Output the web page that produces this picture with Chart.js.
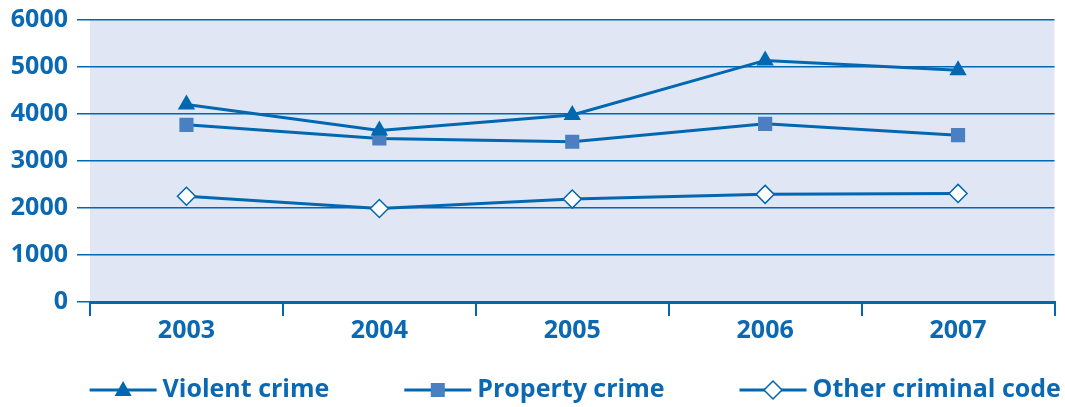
<!DOCTYPE html>
<html>
<head>
<meta charset="utf-8">
<script src="https://cdn.jsdelivr.net/npm/chart.js@4.4.1/dist/chart.umd.min.js"></script>
<style>
html,body{margin:0;padding:0;background:#fff;}
#wrap{width:1065px;height:407px;position:relative;}
</style>
</head>
<body>
<div id="wrap"><canvas id="c" width="1065" height="407"></canvas></div>
<script>
const categories = ['2003', '2004', '2005', '2006', '2007'];
const violentCrime = [4200, 3650, 3980, 5140, 4930];
const propertyCrime = [3770, 3480, 3410, 3790, 3550];
const otherCriminalCode = [2250, 1990, 2190, 2290, 2310];
const yTicks = [0, 1000, 2000, 3000, 4000, 5000, 6000];
const seriesNames = ['Violent crime', 'Property crime', 'Other criminal code'];

const BLUE = '#0067b1';
const SQ = '#4a80c2';
const TXT = '#0b68b2';
const FONT = "'Open Sans', 'Noto Sans', sans-serif";
const FSIZE = 25;

const bgPlugin = {
  id: 'plotBg',
  beforeDraw(chart) {
    const {ctx, chartArea: a} = chart;
    ctx.save();
    ctx.fillStyle = '#e0e6f4';
    ctx.fillRect(a.left, a.top, a.right - a.left, a.bottom - a.top);
    ctx.restore();
  }
};

function drawMarker(g, style, cx, cy) {
  g.beginPath();
  if (style === 'triangle') {
    g.fillStyle = BLUE;
    g.moveTo(cx, cy - 9); g.lineTo(cx + 8.5, cy + 6); g.lineTo(cx - 8.5, cy + 6); g.closePath(); g.fill();
  } else if (style === 'rect') {
    g.fillStyle = SQ;
    g.rect(cx - 7, cy - 7, 14, 14); g.fill();
  } else {
    g.fillStyle = '#fff'; g.strokeStyle = BLUE; g.lineWidth = 1.5;
    g.moveTo(cx, cy - 9); g.lineTo(cx + 9, cy); g.lineTo(cx, cy + 9); g.lineTo(cx - 9, cy); g.closePath(); g.fill(); g.stroke();
  }
}

const legendPlugin = {
  id: 'customLegend',
  afterDraw(chart) {
    const {ctx, chartArea: a} = chart;
    const styles = ['triangle', 'rect', 'rectRot'];
    const iconW = 67, textGap = 6, itemGap = 75, y = 390;
    ctx.save();
    ctx.font = `bold ${FSIZE}px ${FONT}`;
    const widths = chart.data.datasets.map(d => ctx.measureText(d.label).width);
    const total = widths.reduce((s, w) => s + w + iconW + textGap, 0) + itemGap * (widths.length - 1);
    let x = (a.left + a.right) / 2 + 3 - total / 2;
    chart.data.datasets.forEach((d, i) => {
      ctx.strokeStyle = BLUE; ctx.lineWidth = 3;
      ctx.beginPath(); ctx.moveTo(x, y); ctx.lineTo(x + iconW, y); ctx.stroke();
      drawMarker(ctx, styles[i], x + iconW / 2, y);
      ctx.fillStyle = TXT; ctx.textBaseline = 'middle'; ctx.textAlign = 'left';
      ctx.font = `bold ${FSIZE}px ${FONT}`;
      ctx.fillText(d.label, x + iconW + textGap, y);
      x += iconW + textGap + widths[i] + itemGap;
    });
    ctx.restore();
  }
};

new Chart(document.getElementById('c'), {
  type: 'line',
  data: {
    labels: categories,
    datasets: [
      {label: seriesNames[0], data: violentCrime, borderColor: BLUE, backgroundColor: BLUE,
       pointStyle: 'triangle', pointRadius: 10, pointBorderWidth: 0, pointBackgroundColor: BLUE, borderWidth: 3},
      {label: seriesNames[1], data: propertyCrime, borderColor: BLUE, backgroundColor: SQ,
       pointStyle: 'rect', pointRadius: 10, pointBorderWidth: 0, pointBackgroundColor: SQ, borderWidth: 3},
      {label: seriesNames[2], data: otherCriminalCode, borderColor: BLUE, backgroundColor: '#fff',
       pointStyle: 'rectRot', pointRadius: 9, pointBorderWidth: 1.5, pointBorderColor: BLUE, pointBackgroundColor: '#fff', borderWidth: 3}
    ]
  },
  options: {
    responsive: false,
    animation: false,
    devicePixelRatio: 1,
    layout: {padding: {top: 20, right: 6, left: 0, bottom: 61}},
    plugins: {
      tooltip: {enabled: false},
      legend: {display: false}
    },
    scales: {
      x: {
        offset: true,
        grid: {display: true, drawOnChartArea: false, drawTicks: true, tickLength: 14, color: BLUE, lineWidth: 2, offset: true},
        border: {display: true, color: BLUE, width: 3},
        ticks: {color: TXT, font: {family: FONT, size: FSIZE, weight: 'bold'}, padding: 0}
      },
      y: {
        min: 0, max: 6000,
        afterFit(s) { s.width = 90; s.paddingTop = 0; s.paddingBottom = 0; },
        afterBuildTicks(s) { s.ticks = yTicks.map(v => ({value: v})); },
        grid: {color: BLUE, lineWidth: 1.5, drawTicks: true, tickLength: 13},
        border: {display: false},
        ticks: {color: TXT, font: {family: FONT, size: FSIZE, weight: 'bold'}, padding: 9, autoSkip: false,
                callback: v => String(v)}
      }
    }
  },
  plugins: [bgPlugin, legendPlugin]
});
</script>
</body>
</html>
